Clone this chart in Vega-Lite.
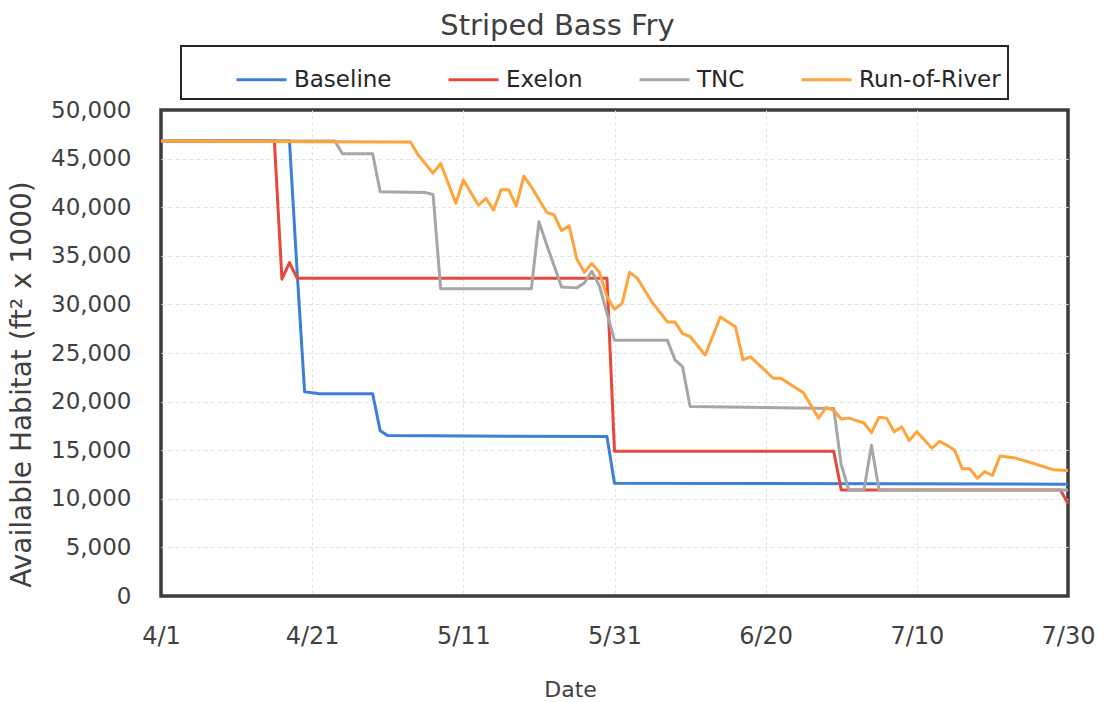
{
  "$schema": "https://vega.github.io/schema/vega-lite/v6.json",
  "width": 907,
  "height": 486,
  "autosize": "none",
  "padding": {"left": 161, "top": 110, "right": 37, "bottom": 106},
  "background": "white",
  "config": {
    "font": "DejaVu Sans",
    "view": {"stroke": "#3c3c3c", "strokeWidth": 3.5},
    "legend": {"strokeWidth": 2}
  },
  "title": {
    "text": "Striped Bass Fry",
    "fontSize": 29,
    "fontWeight": "normal",
    "color": "#404040",
    "anchor": "middle",
    "frame": "group",
    "dx": -57
  },
  "data": {
    "values": [
      {"date": "2020-04-01", "scenario": "Baseline", "habitat": 46800},
      {"date": "2020-04-18", "scenario": "Baseline", "habitat": 46800},
      {"date": "2020-04-19", "scenario": "Baseline", "habitat": 33500},
      {"date": "2020-04-20", "scenario": "Baseline", "habitat": 21000},
      {"date": "2020-04-21", "scenario": "Baseline", "habitat": 20900},
      {"date": "2020-04-22", "scenario": "Baseline", "habitat": 20800},
      {"date": "2020-04-29", "scenario": "Baseline", "habitat": 20800},
      {"date": "2020-04-30", "scenario": "Baseline", "habitat": 17000},
      {"date": "2020-05-01", "scenario": "Baseline", "habitat": 16500},
      {"date": "2020-05-30", "scenario": "Baseline", "habitat": 16400},
      {"date": "2020-05-31", "scenario": "Baseline", "habitat": 11600},
      {"date": "2020-07-30", "scenario": "Baseline", "habitat": 11500},

      {"date": "2020-04-01", "scenario": "Exelon", "habitat": 46800},
      {"date": "2020-04-16", "scenario": "Exelon", "habitat": 46800},
      {"date": "2020-04-17", "scenario": "Exelon", "habitat": 32600},
      {"date": "2020-04-18", "scenario": "Exelon", "habitat": 34300},
      {"date": "2020-04-19", "scenario": "Exelon", "habitat": 32700},
      {"date": "2020-05-30", "scenario": "Exelon", "habitat": 32700},
      {"date": "2020-05-31", "scenario": "Exelon", "habitat": 14900},
      {"date": "2020-06-29", "scenario": "Exelon", "habitat": 14900},
      {"date": "2020-06-30", "scenario": "Exelon", "habitat": 10900},
      {"date": "2020-07-29", "scenario": "Exelon", "habitat": 10900},
      {"date": "2020-07-30", "scenario": "Exelon", "habitat": 9500},

      {"date": "2020-04-01", "scenario": "TNC", "habitat": 46800},
      {"date": "2020-04-24", "scenario": "TNC", "habitat": 46800},
      {"date": "2020-04-25", "scenario": "TNC", "habitat": 45500},
      {"date": "2020-04-29", "scenario": "TNC", "habitat": 45500},
      {"date": "2020-04-30", "scenario": "TNC", "habitat": 41600},
      {"date": "2020-05-06", "scenario": "TNC", "habitat": 41500},
      {"date": "2020-05-07", "scenario": "TNC", "habitat": 41300},
      {"date": "2020-05-08", "scenario": "TNC", "habitat": 31600},
      {"date": "2020-05-20", "scenario": "TNC", "habitat": 31600},
      {"date": "2020-05-21", "scenario": "TNC", "habitat": 38500},
      {"date": "2020-05-22", "scenario": "TNC", "habitat": 36200},
      {"date": "2020-05-23", "scenario": "TNC", "habitat": 34000},
      {"date": "2020-05-24", "scenario": "TNC", "habitat": 31800},
      {"date": "2020-05-26", "scenario": "TNC", "habitat": 31700},
      {"date": "2020-05-27", "scenario": "TNC", "habitat": 32200},
      {"date": "2020-05-28", "scenario": "TNC", "habitat": 33400},
      {"date": "2020-05-29", "scenario": "TNC", "habitat": 31900},
      {"date": "2020-05-31", "scenario": "TNC", "habitat": 26300},
      {"date": "2020-06-07", "scenario": "TNC", "habitat": 26300},
      {"date": "2020-06-08", "scenario": "TNC", "habitat": 24300},
      {"date": "2020-06-09", "scenario": "TNC", "habitat": 23600},
      {"date": "2020-06-10", "scenario": "TNC", "habitat": 19500},
      {"date": "2020-06-29", "scenario": "TNC", "habitat": 19300},
      {"date": "2020-06-30", "scenario": "TNC", "habitat": 13500},
      {"date": "2020-07-01", "scenario": "TNC", "habitat": 10900},
      {"date": "2020-07-03", "scenario": "TNC", "habitat": 10900},
      {"date": "2020-07-04", "scenario": "TNC", "habitat": 15500},
      {"date": "2020-07-05", "scenario": "TNC", "habitat": 10900},
      {"date": "2020-07-30", "scenario": "TNC", "habitat": 10900},

      {"date": "2020-04-01", "scenario": "Run-of-River", "habitat": 46800},
      {"date": "2020-05-04", "scenario": "Run-of-River", "habitat": 46700},
      {"date": "2020-05-05", "scenario": "Run-of-River", "habitat": 45400},
      {"date": "2020-05-07", "scenario": "Run-of-River", "habitat": 43500},
      {"date": "2020-05-08", "scenario": "Run-of-River", "habitat": 44500},
      {"date": "2020-05-10", "scenario": "Run-of-River", "habitat": 40400},
      {"date": "2020-05-11", "scenario": "Run-of-River", "habitat": 42800},
      {"date": "2020-05-13", "scenario": "Run-of-River", "habitat": 40200},
      {"date": "2020-05-14", "scenario": "Run-of-River", "habitat": 40900},
      {"date": "2020-05-15", "scenario": "Run-of-River", "habitat": 39700},
      {"date": "2020-05-16", "scenario": "Run-of-River", "habitat": 41800},
      {"date": "2020-05-17", "scenario": "Run-of-River", "habitat": 41800},
      {"date": "2020-05-18", "scenario": "Run-of-River", "habitat": 40100},
      {"date": "2020-05-19", "scenario": "Run-of-River", "habitat": 43200},
      {"date": "2020-05-20", "scenario": "Run-of-River", "habitat": 42100},
      {"date": "2020-05-22", "scenario": "Run-of-River", "habitat": 39500},
      {"date": "2020-05-23", "scenario": "Run-of-River", "habitat": 39200},
      {"date": "2020-05-24", "scenario": "Run-of-River", "habitat": 37600},
      {"date": "2020-05-25", "scenario": "Run-of-River", "habitat": 38100},
      {"date": "2020-05-26", "scenario": "Run-of-River", "habitat": 34700},
      {"date": "2020-05-27", "scenario": "Run-of-River", "habitat": 33300},
      {"date": "2020-05-28", "scenario": "Run-of-River", "habitat": 34200},
      {"date": "2020-05-29", "scenario": "Run-of-River", "habitat": 33300},
      {"date": "2020-05-30", "scenario": "Run-of-River", "habitat": 30800},
      {"date": "2020-05-31", "scenario": "Run-of-River", "habitat": 29500},
      {"date": "2020-06-01", "scenario": "Run-of-River", "habitat": 30100},
      {"date": "2020-06-02", "scenario": "Run-of-River", "habitat": 33300},
      {"date": "2020-06-03", "scenario": "Run-of-River", "habitat": 32700},
      {"date": "2020-06-05", "scenario": "Run-of-River", "habitat": 30200},
      {"date": "2020-06-07", "scenario": "Run-of-River", "habitat": 28200},
      {"date": "2020-06-08", "scenario": "Run-of-River", "habitat": 28200},
      {"date": "2020-06-09", "scenario": "Run-of-River", "habitat": 27000},
      {"date": "2020-06-10", "scenario": "Run-of-River", "habitat": 26700},
      {"date": "2020-06-12", "scenario": "Run-of-River", "habitat": 24800},
      {"date": "2020-06-14", "scenario": "Run-of-River", "habitat": 28700},
      {"date": "2020-06-16", "scenario": "Run-of-River", "habitat": 27700},
      {"date": "2020-06-17", "scenario": "Run-of-River", "habitat": 24300},
      {"date": "2020-06-18", "scenario": "Run-of-River", "habitat": 24600},
      {"date": "2020-06-21", "scenario": "Run-of-River", "habitat": 22400},
      {"date": "2020-06-22", "scenario": "Run-of-River", "habitat": 22400},
      {"date": "2020-06-25", "scenario": "Run-of-River", "habitat": 20900},
      {"date": "2020-06-27", "scenario": "Run-of-River", "habitat": 18300},
      {"date": "2020-06-28", "scenario": "Run-of-River", "habitat": 19400},
      {"date": "2020-06-29", "scenario": "Run-of-River", "habitat": 19100},
      {"date": "2020-06-30", "scenario": "Run-of-River", "habitat": 18200},
      {"date": "2020-07-01", "scenario": "Run-of-River", "habitat": 18300},
      {"date": "2020-07-03", "scenario": "Run-of-River", "habitat": 17800},
      {"date": "2020-07-04", "scenario": "Run-of-River", "habitat": 16800},
      {"date": "2020-07-05", "scenario": "Run-of-River", "habitat": 18400},
      {"date": "2020-07-06", "scenario": "Run-of-River", "habitat": 18300},
      {"date": "2020-07-07", "scenario": "Run-of-River", "habitat": 16900},
      {"date": "2020-07-08", "scenario": "Run-of-River", "habitat": 17400},
      {"date": "2020-07-09", "scenario": "Run-of-River", "habitat": 16000},
      {"date": "2020-07-10", "scenario": "Run-of-River", "habitat": 16900},
      {"date": "2020-07-12", "scenario": "Run-of-River", "habitat": 15200},
      {"date": "2020-07-13", "scenario": "Run-of-River", "habitat": 15900},
      {"date": "2020-07-14", "scenario": "Run-of-River", "habitat": 15500},
      {"date": "2020-07-15", "scenario": "Run-of-River", "habitat": 15000},
      {"date": "2020-07-16", "scenario": "Run-of-River", "habitat": 13100},
      {"date": "2020-07-17", "scenario": "Run-of-River", "habitat": 13100},
      {"date": "2020-07-18", "scenario": "Run-of-River", "habitat": 12100},
      {"date": "2020-07-19", "scenario": "Run-of-River", "habitat": 12800},
      {"date": "2020-07-20", "scenario": "Run-of-River", "habitat": 12400},
      {"date": "2020-07-21", "scenario": "Run-of-River", "habitat": 14400},
      {"date": "2020-07-23", "scenario": "Run-of-River", "habitat": 14200},
      {"date": "2020-07-26", "scenario": "Run-of-River", "habitat": 13500},
      {"date": "2020-07-28", "scenario": "Run-of-River", "habitat": 13000},
      {"date": "2020-07-30", "scenario": "Run-of-River", "habitat": 12900}
    ]
  },
  "mark": {"type": "line", "strokeWidth": 3, "strokeJoin": "round"},
  "encoding": {
    "x": {
      "field": "date",
      "type": "temporal",
      "scale": {
        "type": "utc",
        "domain": [
          {"year": 2020, "month": 4, "date": 1, "utc": true},
          {"year": 2020, "month": 7, "date": 30, "utc": true}
        ]
      },
      "axis": {
        "values": [
          {"year": 2020, "month": 4, "date": 1, "utc": true},
          {"year": 2020, "month": 4, "date": 21, "utc": true},
          {"year": 2020, "month": 5, "date": 11, "utc": true},
          {"year": 2020, "month": 5, "date": 31, "utc": true},
          {"year": 2020, "month": 6, "date": 20, "utc": true},
          {"year": 2020, "month": 7, "date": 10, "utc": true},
          {"year": 2020, "month": 7, "date": 30, "utc": true}
        ],
        "labelExpr": "utcFormat(datum.value, '%-m/%-d')",
        "title": "Date",
        "titleFontSize": 22,
        "titleFontWeight": "normal",
        "titleColor": "#404040",
        "titleX": 409,
        "titleY": 100,
        "titleAlign": "center",
        "titleBaseline": "alphabetic",
        "labelFontSize": 24,
        "labelColor": "#404040",
        "labelPadding": 28,
        "labelFlush": false,
        "labelOverlap": false,
        "labelBound": false,
        "ticks": false,
        "tickSize": 0,
        "domain": false,
        "grid": true,
        "gridColor": "#e2e2e2",
        "gridOpacity": {"condition": {"test": "datum.index == 0 || datum.index == 1", "value": 0}, "value": 1},
        "gridDash": [3, 3],
        "gridWidth": 1
      }
    },
    "y": {
      "field": "habitat",
      "type": "quantitative",
      "scale": {"domain": [0, 50000], "nice": false, "zero": true},
      "axis": {
        "values": [0, 5000, 10000, 15000, 20000, 25000, 30000, 35000, 40000, 45000, 50000],
        "format": ",d",
        "title": "Available Habitat (ft² x 1000)",
        "titleFontSize": 28,
        "titleFontWeight": "normal",
        "titleColor": "#404040",
        "titleX": -139,
        "titleY": 274,
        "titleAngle": -90,
        "titleAlign": "center",
        "titleBaseline": "middle",
        "labelFontSize": 23,
        "labelColor": "#404040",
        "labelPadding": 30,
        "ticks": false,
        "tickSize": 0,
        "domain": false,
        "grid": true,
        "gridColor": "#e2e2e2",
        "gridOpacity": {"condition": {"test": "datum.index == 0 || datum.index == 1", "value": 0}, "value": 1},
        "gridDash": [4, 3],
        "gridWidth": 1
      }
    },
    "color": {
      "field": "scenario",
      "type": "nominal",
      "scale": {
        "domain": ["Baseline", "Exelon", "TNC", "Run-of-River"],
        "range": ["#3d7fd6", "#e8483a", "#a6a6a6", "#ffa33a"]
      },
      "legend": {
        "orient": "none",
        "legendX": 20,
        "legendY": -64,
        "direction": "horizontal",
        "title": " ",
        "titleOrient": "left",
        "titlePadding": 47,
        "titleFontSize": 23,
        "padding": 7,
        "strokeColor": "#262626",
        "fillColor": "white",
        "symbolType": "stroke",
        "symbolSize": 2500,
        "symbolStrokeWidth": 3,
        "labelFontSize": 23,
        "labelColor": "#262626",
        "labelOffset": 6,
        "labelExpr": "datum.label == 'Run-of-River' ? datum.label + '\u00a0\u00a0\u00a0\u00a0\u00a0\u00a0\u00a0\u00a0\u00a0' : datum.label",
        "columnPadding": 50,
        "labelLimit": 400
      }
    }
  }
}
